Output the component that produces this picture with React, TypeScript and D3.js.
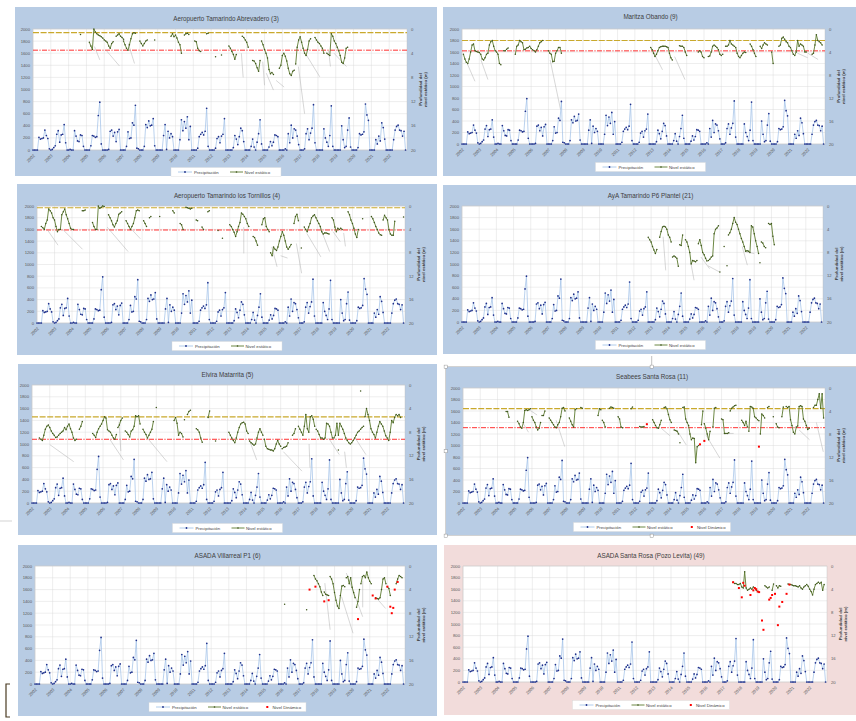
import * as d3 from "d3";

type Seg = [string, number[]];
type Dot = [string, number];

const YEAR_TICKS = d3.range(2002, 2023);
const LEFT_TICKS = d3.range(0, 2001, 200);
const RIGHT_TICKS = [0, 4, 8, 12, 16, 20];

// precipitación mensual (mm), una fila por año 2002..2022
const PRECIP_MM: number[][] = [
  [0, 0, 0, 0, 210, 180, 190, 200, 330, 240, 190, 20],
  [0, 10, 40, 70, 260, 320, 130, 250, 260, 420, 120, 0],
  [0, 10, 0, 0, 320, 230, 150, 140, 250, 240, 60, 0],
  [0, 0, 0, 70, 240, 230, 210, 220, 570, 790, 100, 0],
  [0, 0, 0, 10, 310, 330, 230, 290, 140, 300, 340, 0],
  [0, 0, 0, 60, 300, 190, 200, 450, 410, 740, 30, 20],
  [0, 0, 0, 60, 420, 370, 480, 400, 410, 520, 70, 0],
  [0, 0, 0, 0, 240, 420, 10, 310, 200, 270, 220, 0],
  [0, 0, 0, 170, 500, 320, 470, 360, 550, 170, 390, 0],
  [0, 0, 0, 30, 220, 260, 290, 250, 310, 690, 60, 0],
  [0, 0, 0, 30, 190, 220, 120, 230, 260, 520, 0, 0],
  [0, 0, 0, 40, 240, 180, 90, 220, 360, 320, 140, 0],
  [0, 0, 0, 60, 180, 50, 0, 130, 270, 500, 100, 0],
  [0, 0, 0, 50, 140, 70, 130, 250, 240, 220, 0, 0],
  [0, 0, 20, 0, 270, 120, 410, 200, 350, 330, 230, 90],
  [0, 0, 0, 20, 270, 350, 170, 280, 360, 750, 120, 0],
  [0, 0, 0, 0, 350, 200, 130, 60, 240, 730, 60, 0],
  [0, 0, 0, 0, 400, 170, 40, 60, 330, 530, 50, 0],
  [0, 0, 0, 40, 270, 250, 260, 300, 760, 580, 490, 0],
  [0, 0, 0, 170, 100, 230, 150, 450, 370, 180, 0, 0],
  [0, 0, 0, 170, 330, 390, 410, 330, 320, 230, 310, 0],
];

const TITLES = [
  "Aeropuerto Tamarindo Abrevadero (3)",
  "Maritza Obando (9)",
  "Aeropuerto Tamarindo los Tornillos (4)",
  "AyA Tamarindo P6 Plantel (21)",
  "Elvira Matarrita (5)",
  "Seabees Santa Rosa (11)",
  "ASADA Villarreal P1  (6)",
  "ASADA Santa Rosa (Pozo Levita) (49)",
];

// nivel estático: profundidad (m), tramos mensuales [inicio, valores]
const LEVEL_P1: Seg[] = [
  ["2004-09", [0.9]],
  ["2005-03", [2.2, 2.8, 3.4, 0.0, 0.5, 0.8, 1.0, 1.1, 1.3, 1.5, 1.8, 2.0, 2.2, 2.8, 3.2, 2.4, 2.1]],
  ["2006-09", [1.2, 1.0, 0.8, 1.2, 1.4, 1.7]],
  ["2007-02", [2.0, 2.6, 3.2, 3.5, 2.6, 1.6, 0.8, 0.6, 0.7]],
  ["2008-01", [2.0, 2.4, 2.8, 2.4, 2.0, 1.8]],
  ["2008-11", [1.8]],
  ["2009-10", [1.2, 0.8, 1.3, 1.0, 1.5, 2.2, 2.6, 4.0]],
  ["2010-07", [1.0, 0.8, 0.7, 0.9]],
  ["2011-02", [2.0, 2.1, 3.2, 3.6, 3.7]],
  ["2011-10", [0.8, 0.7]],
  ["2012-04", [4.6]],
  ["2012-08", [4.3]],
  ["2013-01", [2.8, 3.2, 3.7, 4.2, 5.0, 4.2]],
  ["2013-10", [1.2, 1.4, 1.8, 2.2, 3.0]],
  ["2014-05", [5.2, 5.3, 5.7, 6.4, 7.0, 5.2]],
  ["2014-11", [2.0, 2.6, 3.4, 4.0, 4.8, 6.7, 7.4, 7.2, 7.5]],
  ["2015-11", [6.5, 6.0, 4.4, 4.0, 4.5, 5.3, 6.5, 7.4, 7.7, 7.0, 6.8]],
  ["2016-10", [5.8, 3.0, 1.8, 1.3, 2.2, 3.2, 4.0, 4.4, 3.4, 2.0, 1.6]],
  ["2017-11", [1.4, 1.8, 2.2, 2.4, 2.8, 3.2, 4.0]],
  ["2018-07", [4.0, 4.2, 4.4, 0.8, 1.2, 2.0, 2.4, 3.0, 3.6, 4.4, 5.5, 5.7, 4.8, 3.2, 3.0]],
];

const LEVEL_P2: Seg[] = [
  ["2002-02", [4.4, 5.2, 5.8, 6.0, 5.2, 4.0, 2.8, 2.6, 3.8, 3.9, 4.0, 4.1, 4.4, 5.2, 5.4, 5.0, 4.4, 4.2, 2.8, 2.2, 2.0, 3.0, 3.8, 4.0, 4.4, 6.0, 6.2]],
  ["2004-06", [3.8, 3.8, 3.5, 3.3]],
  ["2005-02", [4.4, 3.0, 2.8, 2.0, 2.2, 2.4, 3.6, 3.5, 3.3, 3.2, 3.0, 3.4, 3.6, 3.8, 4.0, 3.6, 3.0, 2.4, 2.2, 2.0]],
  ["2007-01", [3.8, 4.2, 4.4, 5.7, 5.6, 4.2, 3.8, 3.2, 3.2, 4.2]],
  ["2012-12", [3.2, 3.6, 4.2, 4.8, 4.4, 3.8, 3.2, 3.1, 3.0, 3.0, 3.0, 3.1, 3.2, 4.2, 5.0, 5.4]],
  ["2014-08", [2.9, 3.0, 3.0, 3.2, 4.0, 4.6]],
  ["2015-09", [4.0, 3.8, 4.0, 4.8, 5.0]],
  ["2016-04", [4.8, 4.7, 4.0, 3.0, 2.8, 3.0, 3.2, 3.6, 4.4, 4.6, 4.4]],
  ["2017-04", [3.0, 3.0, 2.8, 2.0, 2.6, 2.8, 3.0, 3.2, 4.2, 4.8, 5.0, 4.6, 4.2, 4.0, 4.1]],
  ["2018-09", [2.6, 3.0, 3.6, 4.2, 4.8]],
  ["2019-04", [3.0, 3.4, 2.8, 2.4, 2.6, 2.8]],
  ["2019-12", [4.0, 6.0]],
  ["2020-05", [3.0, 2.8, 1.6, 1.4, 1.8, 2.2, 2.4, 3.0, 3.2, 3.8, 4.4, 4.6, 4.0, 2.0, 3.0, 2.6, 2.8, 3.0, 4.0, 4.0]],
  ["2022-04", [4.4, 4.2, 2.8, 1.0, 2.0, 2.2, 2.4, 2.8]],
];

const LEVEL_P3: Seg[] = [
  ["2002-04", [3.5, 3.7, 4.0, 3.0, 2.4, 0.5, 0.8, 1.2, 2.0, 2.4, 3.5, 4.4, 4.0, 4.0, 1.5, 1.0, 0.5, 1.5, 2.2, 3.0, 3.8, 4.0, 4.0]],
  ["2004-08", [0.8, 0.8, 0.7]],
  ["2005-03", [2.8, 3.5, 4.0, 4.0, 0.0, 0.4, 0.2, 0.0, 0.1]],
  ["2006-02", [1.5, 2.0, 2.5, 3.2, 3.6, 3.0, 2.5, 1.4, 1.2, 1.0]],
  ["2007-02", [2.5, 3.0, 3.5, 4.0, 3.5, 3.0, 2.0, 0.8, 0.7, 0.8]],
  ["2008-02", [2.5, 3.0, 3.5]],
  ["2008-06", [2.0, 1.8]],
  ["2009-01", [1.8]],
  ["2009-10", [0.8, 1.2]],
  ["2010-03", [3.0, 3.2, 4.0]],
  ["2010-07", [0.2, 0.3, 0.4, 0.5, 0.4]],
  ["2011-02", [2.4, 2.5]],
  ["2011-06", [3.6, 4.0]],
  ["2011-10", [1.0, 0.8]],
  ["2012-05", [4.2]],
  ["2012-08", [5.5]],
  ["2013-01", [3.2, 3.5, 4.0, 4.5, 5.2, 4.4, 3.5, 2.8, 1.2, 1.4, 1.8, 2.2, 3.0, 3.5]],
  ["2014-05", [5.2, 5.4, 6.0, 6.7]],
  ["2014-11", [3.2, 2.2, 2.0, 3.5, 4.0, 4.4]],
  ["2015-05", [8.0, 8.5, 7.0, 7.4, 7.6, 7.0, 6.0, 5.2, 4.4, 5.0, 6.0, 7.0, 7.4, 7.0, 6.6]],
  ["2016-09", [3.0, 1.8, 1.4, 2.5]],
  ["2017-02", [7.2]],
  ["2017-04", [3.6, 4.0, 4.4, 3.6, 3.0, 2.0, 1.7, 1.5, 2.0, 2.5, 3.0, 3.5, 4.4, 4.8, 4.6, 4.6, 4.7, 4.8]],
  ["2018-11", [2.0, 2.4, 3.6, 4.4, 3.8, 4.0, 3.8, 4.0]],
  ["2019-10", [1.0, 1.5, 2.4, 3.0, 3.8, 4.8, 5.4, 4.0]],
  ["2020-08", [2.2]],
  ["2021-02", [1.8, 2.2, 2.8, 3.5, 4.0, 4.6, 4.9, 5.0]],
  ["2021-10", [2.4, 1.6, 2.0, 2.4, 4.0, 4.8, 5.0, 5.0, 2.6]],
  ["2022-12", [1.9]],
];

const LEVEL_P4: Seg[] = [
  ["2012-11", [5.4, 5.8, 6.2, 7.0, 7.6, 8.2, 7.5]],
  ["2013-07", [5.4, 4.4, 3.6, 3.5, 3.6, 4.0, 5.0, 5.4, 6.2]],
  ["2014-04", [8.8, 8.6, 8.8, 9.0, 10.4]],
  ["2014-09", [6.7, 6.8, 5.0]],
  ["2015-01", [5.8, 6.2, 7.0, 8.0, 10.0, 9.4, 9.5, 9.6, 9.4]],
  ["2015-10", [6.5, 5.8, 6.8, 8.0, 8.4, 9.0, 9.5]],
  ["2016-05", [9.4, 9.2, 8.8, 8.6, 4.8, 4.0, 3.8, 3.4]],
  ["2017-01", [11.4]],
  ["2017-04", [7.0]],
  ["2017-06", [10.3]],
  ["2017-07", [5.0, 4.6, 4.0, 3.0, 2.0, 2.8, 3.2, 4.0, 4.8, 5.6, 6.2, 7.0, 7.8, 7.7, 7.8, 8.0, 3.4, 3.6, 4.8, 6.0, 7.0, 8.2]],
  ["2019-05", [9.8]],
  ["2019-06", [6.2, 6.4, 7.0, 7.2]],
  ["2019-11", [3.0, 3.2, 3.0, 5.2, 6.7]],
];

const LEVEL_P5: Seg[] = [
  ["2002-06", [9.0, 9.2, 9.4, 8.5, 7.5, 7.0, 6.8, 7.2, 7.8, 8.2, 8.5, 8.9, 8.8, 8.5, 8.2, 8.0, 7.8, 7.2, 7.6, 7.0, 6.6, 7.4, 8.0, 9.0, 9.4, 9.2]],
  ["2004-09", [7.5, 7.0, 6.2]],
  ["2005-06", [8.2, 8.5, 8.9, 8.0, 7.4, 7.0, 6.6, 6.0, 5.4, 5.6, 7.6, 7.8, 8.0, 8.5, 9.0, 9.2, 8.4]],
  ["2006-11", [7.2, 6.8, 6.0, 5.6]],
  ["2007-04", [7.8, 8.0, 8.4, 8.8, 7.8, 7.6, 7.0, 5.2, 5.4, 5.2, 6.6]],
  ["2008-04", [7.5, 8.0, 8.4, 9.0, 8.5, 8.0, 7.5, 6.2]],
  ["2009-01", [3.8]],
  ["2010-01", [6.0, 5.5, 6.5, 8.5, 8.0, 8.2, 8.8]],
  ["2010-08", [5.9]],
  ["2010-10", [5.0, 4.5, 4.3]],
  ["2011-04", [7.4, 7.6, 8.0, 9.0, 9.7]],
  ["2011-12", [5.5, 4.4]],
  ["2012-05", [9.5]],
  ["2013-02", [8.0, 8.5, 9.0, 9.4, 9.8, 9.0, 8.0, 7.2, 6.6, 6.4, 6.3, 6.6, 7.8, 8.2]],
  ["2014-04", [9.5, 9.8, 10.0, 10.2, 10.0, 9.0, 8.0, 7.4, 8.0, 8.5]],
  ["2015-02", [9.2, 10.4, 10.8, 10.9, 11.0, 11.0, 11.2, 10.8, 10.0, 9.4, 10.0, 10.4]],
  ["2016-02", [10.8, 10.6, 10.5, 10.4, 9.8]],
  ["2016-09", [8.5, 8.2, 7.4]],
  ["2017-01", [7.0, 7.5, 8.0, 8.5, 7.0, 5.0, 7.4, 8.0, 5.4, 5.2, 5.8, 7.0]],
  ["2018-01", [7.5, 7.8, 8.4, 9.0, 9.0, 9.2, 9.0, 6.5, 6.6, 7.0, 8.0, 9.0]],
  ["2019-01", [9.0, 8.5, 6.5, 8.5, 6.5, 7.0, 7.5, 8.2, 9.0, 9.4, 9.8, 10.0, 9.8, 9.4, 9.0, 8.5, 8.0, 7.8, 7.5, 7.2, 7.0]],
  ["2019-04", [11.0]],
  ["2020-07", [1.0]],
  ["2020-10", [5.4, 4.0, 5.0, 6.0, 7.4, 8.0, 8.4, 9.0, 8.0, 7.0, 6.2, 6.6, 7.0, 7.8, 8.6, 9.0, 9.4, 8.0, 6.0, 6.4, 5.5, 5.0, 5.2, 5.0, 5.5]],
];

const LEVEL_P6: Seg[] = [
  ["2004-07", [4.1, 4.1, 5.1]],
  ["2005-03", [5.8, 6.2, 6.8, 7.0, 6.0, 3.9, 3.8, 3.9, 3.8, 3.6]],
  ["2006-01", [5.0, 5.6, 6.0, 6.8, 7.3, 7.0, 6.0]],
  ["2006-08", [4.8, 4.8, 4.0]],
  ["2007-01", [5.2, 5.6, 6.0, 6.4, 6.8, 6.9, 6.4, 6.0, 5.0, 3.5, 3.4, 4.0]],
  ["2008-03", [5.2, 5.8, 6.4, 6.8, 3.8, 3.6]],
  ["2008-11", [3.4, 3.5]],
  ["2009-11", [4.8, 3.6, 3.8]],
  ["2010-02", [5.6, 6.0, 6.8]],
  ["2010-07", [3.5, 3.3, 3.4, 3.5]],
  ["2011-01", [5.0, 5.4, 6.8, 6.9]],
  ["2011-10", [3.6, 3.3]],
  ["2012-04", [6.7, 6.8, 6.8, 6.7]],
  ["2013-01", [5.5, 6.0, 6.5, 6.9, 7.0, 6.4, 5.6]],
  ["2013-09", [3.4, 3.3, 3.6, 4.6, 5.5, 6.0]],
  ["2014-04", [7.3, 7.4, 7.5, 8.0]],
  ["2014-08", [9.5]],
  ["2014-10", [3.4, 3.3, 5.4, 6.0, 6.5, 8.0, 9.0, 8.7, 8.8, 13.0, 10.2, 10.0]],
  ["2015-11", [6.4, 4.0]],
  ["2016-01", [6.2, 7.0, 8.0, 9.0, 7.5]],
  ["2016-07", [6.8, 3.5, 3.4]],
  ["2017-01", [5.4, 5.5, 7.9, 7.9, 7.9, 7.8]],
  ["2017-07", [4.0, 3.5, 3.3, 3.1, 3.0]],
  ["2018-03", [5.6, 6.0, 6.5, 5.8, 6.8]],
  ["2018-08", [7.5, 3.2, 3.3, 3.5, 5.0, 5.2, 5.5, 5.7]],
  ["2019-04", [8.0, 4.5, 4.8, 5.2]],
  ["2019-09", [3.4, 3.2]],
  ["2020-01", [5.0]],
  ["2020-03", [6.2, 6.8, 6.9]],
  ["2020-07", [5.0, 3.3]],
  ["2020-10", [3.2, 3.4, 3.2, 5.5, 6.5, 7.7, 8.0, 6.8, 6.6, 3.2, 3.1, 3.2, 5.4, 5.8, 6.5, 7.2, 7.0]],
  ["2022-05", [3.4, 3.0, 3.0, 2.0, 1.0, 3.5, 1.0, 5.2]],
];

const LEVEL_P7: Seg[] = [
  ["2016-03", [6.5]],
  ["2017-06", [7.4]],
  ["2017-11", [1.6, 2.2, 2.5, 3.0, 3.5, 4.4, 5.0]],
  ["2018-06", [4.4, 4.8, 4.9, 5.0]],
  ["2018-10", [1.8, 2.2, 3.0, 4.5, 5.8, 6.8, 7.2, 5.0, 3.4, 3.3, 3.5]],
  ["2019-09", [2.0, 1.8, 3.0, 2.0, 3.6, 4.5, 5.4]],
  ["2020-04", [7.0, 6.0, 4.0]],
  ["2020-07", [3.0, 1.8, 1.6, 2.0, 1.0, 2.0, 2.6, 3.0]],
  ["2021-05", [5.4, 5.5, 5.6, 5.4, 4.0, 2.2, 2.0, 3.0]],
  ["2022-01", [3.5, 3.8, 5.0]],
  ["2022-07", [3.0, 2.2, 1.6, 1.8, 2.0]],
];

const LEVEL_P8: Seg[] = [
  ["2017-08", [2.8, 3.0, 3.0, 3.2, 3.2, 3.0, 3.6, 3.8, 1.0, 3.8, 4.2, 4.0, 3.8, 4.0, 3.6, 3.8, 4.2, 4.4]],
  ["2019-06", [3.4, 3.6, 3.8, 3.6]],
  ["2019-11", [4.2, 3.1]],
  ["2020-02", [3.4, 3.8, 3.4, 3.5]],
  ["2020-10", [3.1, 3.2, 3.2, 3.3, 3.4, 3.4, 3.5, 3.6, 3.4, 3.8, 4.0, 3.6, 3.4, 3.2, 3.5, 4.0, 4.4, 5.0, 4.0, 3.2, 3.0, 2.8, 3.0, 2.8, 4.2, 3.2]],
];

// nivel dinámico: profundidad (m)
const DYN_P6: Dot[] = [["2012-09", 6.3], ["2015-10", 9.8], ["2016-01", 9.2], ["2019-03", 10.2]];
const DYN_P7: Dot[] = [
  ["2017-08", 4.0], ["2017-12", 3.5], ["2018-06", 6.0], ["2018-09", 5.8], ["2020-05", 9.0],
  ["2021-03", 5.0], ["2021-05", 5.5], ["2022-01", 3.5], ["2022-03", 6.9], ["2022-04", 8.0],
  ["2022-05", 7.1], ["2022-06", 4.0], ["2022-08", 2.7],
];
const DYN_P8: Dot[] = [
  ["2017-08", 2.8], ["2017-12", 3.8], ["2018-02", 5.4], ["2018-03", 2.9], ["2018-04", 3.4],
  ["2018-08", 5.0], ["2018-10", 4.2], ["2018-11", 3.8], ["2018-12", 4.0], ["2019-01", 4.4],
  ["2019-02", 4.5], ["2019-04", 9.4], ["2019-05", 11.0], ["2019-09", 5.8], ["2019-10", 5.5],
  ["2019-11", 5.0], ["2020-01", 4.8], ["2020-03", 10.2], ["2020-04", 7.0], ["2020-06", 6.2],
  ["2020-09", 4.8], ["2020-11", 3.2],
];

// líneas grises finas: [año, prof, año, prof]
const TRACE_P1 = [
  [2005.45, 2.9, 2005.75, 5.1], [2006.1, 3.5, 2006.85, 6.1], [2007.35, 2.4, 2007.7, 5.7],
  [2013.7, 4.0, 2013.8, 8.0], [2014.9, 5.4, 2015.0, 9.3], [2015.1, 7.3, 2015.5, 10.1],
  [2015.65, 8.5, 2016.1, 9.6], [2016.9, 6.2, 2017.25, 14.0], [2017.35, 4.3, 2018.1, 7.9],
  [2018.6, 3.6, 2018.7, 6.2], [2018.9, 4.0, 2019.6, 6.2],
];
const TRACE_P2 = [
  [2002.3, 6.0, 2002.75, 9.1], [2003.1, 5.4, 2003.5, 8.8], [2007.1, 5.4, 2007.7, 14.0],
  [2013.0, 3.6, 2013.6, 7.1], [2014.3, 4.8, 2014.9, 8.8], [2021.4, 4.2, 2022.0, 5.0],
  [2022.0, 4.2, 2022.6, 5.3],
];
const TRACE_P3 = [
  [2002.6, 4.1, 2003.2, 6.7], [2003.5, 4.1, 2004.6, 7.4], [2006.0, 3.6, 2007.2, 7.8],
  [2007.4, 4.0, 2007.9, 5.6], [2013.8, 3.6, 2013.8, 8.1], [2015.4, 7.0, 2015.7, 10.4],
  [2015.9, 8.5, 2016.3, 8.9], [2016.8, 6.4, 2017.1, 11.5], [2017.4, 4.7, 2018.2, 8.7],
  [2018.15, 3.6, 2018.7, 7.8], [2018.9, 4.4, 2019.3, 6.1], [2019.5, 4.6, 2019.6, 6.9],
];
const TRACE_P4 = [
  [2013.7, 5.3, 2013.85, 11.1], [2015.3, 9.6, 2015.5, 12.8], [2015.9, 8.8, 2016.4, 10.8],
  [2016.3, 10.3, 2017.0, 11.4], [2018.3, 7.0, 2018.6, 10.2], [2018.5, 7.9, 2019.0, 8.2],
];
const TRACE_P5 = [
  [2003.0, 10.1, 2004.35, 13.0], [2006.4, 9.3, 2007.15, 12.7], [2006.9, 6.2, 2007.0, 11.2],
  [2008.5, 9.0, 2009.6, 13.0], [2014.2, 9.0, 2014.65, 12.7], [2016.15, 11.3, 2017.2, 14.6],
  [2017.6, 10.0, 2017.65, 14.0], [2018.7, 9.0, 2019.3, 11.8], [2019.6, 11.3, 2019.7, 14.0],
  [2020.2, 9.0, 2020.8, 11.8],
];
const TRACE_P6 = [
  [2005.5, 6.2, 2005.8, 7.7], [2005.9, 3.9, 2006.3, 4.7], [2007.4, 5.6, 2007.9, 10.2],
  [2013.5, 7.0, 2014.0, 8.3], [2014.4, 7.3, 2014.95, 9.9], [2016.1, 8.2, 2016.9, 12.2],
  [2017.4, 7.9, 2017.7, 7.9], [2021.5, 7.3, 2022.1, 9.0], [2022.5, 6.0, 2022.9, 11.1],
];
const TRACE_P7 = [
  [2018.45, 2.9, 2018.75, 10.8], [2019.4, 5.2, 2020.05, 11.4], [2019.67, 1.2, 2020.6, 8.6],
  [2020.6, 2.5, 2020.6, 7.0], [2021.4, 5.5, 2021.9, 7.2],
];

// líneas de referencia (prof, m)
const REF_GOLD = [0.6, 2.0, 0.3, null, 5.4, 3.6, null, null];
const REF_RED = [3.5, 3.8, 4.1, null, 9.2, 6.9, null, null];

const LEVELS = [LEVEL_P1, LEVEL_P2, LEVEL_P3, LEVEL_P4, LEVEL_P5, LEVEL_P6, LEVEL_P7, LEVEL_P8];
const DYNAMIC: (Dot[] | null)[] = [null, null, null, null, null, DYN_P6, DYN_P7, DYN_P8];
const TRACES = [TRACE_P1, TRACE_P2, TRACE_P3, TRACE_P4, TRACE_P5, TRACE_P6, TRACE_P7, []];

const LAYOUT = [
  { bx: 15, by: 7, bw: 422, bh: 169, l: 33, r: 407, t: 29, b: 150, ty: 18, ly: 172, bg: "#b8cce4" },
  { bx: 443, by: 7, bw: 415, bh: 169, l: 462, r: 825, t: 29, b: 144, ty: 16, ly: 167, bg: "#b8cce4" },
  { bx: 17, by: 184, bw: 420, bh: 171, l: 37, r: 405, t: 206, b: 323, ty: 195, ly: 346, bg: "#b8cce4" },
  { bx: 443, by: 185, bw: 415, bh: 169, l: 462, r: 823, t: 206, b: 322, ty: 195, ly: 345, bg: "#b8cce4" },
  { bx: 18, by: 364, bw: 419, bh: 171, l: 32, r: 405, t: 385, b: 503, ty: 374, ly: 528, bg: "#b8cce4" },
  { bx: 446, by: 367, bw: 412, bh: 168, l: 463, r: 825, t: 388, b: 503, ty: 376, ly: 527, bg: "#b8cce4" },
  { bx: 18, by: 545, bw: 419, bh: 171, l: 35, r: 405, t: 566, b: 684, ty: 555, ly: 707, bg: "#b8cce4" },
  { bx: 444, by: 545, bw: 414, bh: 170, l: 463, r: 827, t: 566, b: 682, ty: 555, ly: 705, bg: "#f2dcdb" },
];

const FONT = "'Liberation Sans', Arial, sans-serif";
const RAIN_LINE = "#9dbfe6";
const RAIN_MARK = "#1f2f8a";
const LEVEL_LINE = "#5c7a30";
const LEVEL_MARK = "#3e561c";

const toYear = (s: string) => +s.slice(0, 4) + (+s.slice(5, 7) - 1) / 12;

function Legend({ cx, cy, dyn }: { cx: number; cy: number; dyn: boolean }) {
  const w = dyn ? 157 : 110;
  const x0 = cx - w / 2;
  return (
    <g fontSize={4.3} fill="#404040">
      <rect x={x0} y={cy - 4.5} width={w} height={9} fill="#fff" stroke="#d9d9d9" strokeWidth={0.4} />
      <line x1={x0 + 7} x2={x0 + 21} y1={cy} y2={cy} stroke={RAIN_LINE} strokeWidth={0.8} />
      <circle cx={x0 + 14} cy={cy} r={0.9} fill={RAIN_MARK} />
      <text x={x0 + 23} y={cy} dominantBaseline="central">Precipitación</text>
      <line x1={x0 + 59} x2={x0 + 72} y1={cy} y2={cy} stroke={LEVEL_LINE} strokeWidth={0.9} />
      <circle cx={x0 + 65.5} cy={cy} r={0.8} fill={LEVEL_MARK} />
      <text x={x0 + 73.5} y={cy} dominantBaseline="central">Nivel estático</text>
      {dyn && (
        <>
          <rect x={x0 + 117.3} y={cy - 1} width={2} height={2} fill="#ff0000" />
          <text x={x0 + 123.5} y={cy} dominantBaseline="central">Nivel Dinámico</text>
        </>
      )}
    </g>
  );
}

function Panel({ k }: { k: number }) {
  const L = LAYOUT[k];
  const x = d3.scaleLinear().domain([2002, 2023]).range([L.l, L.r]);
  const yL = d3.scaleLinear().domain([0, 2000]).range([L.b, L.t]);
  const yR = d3.scaleLinear().domain([0, 20]).range([L.t, L.b]);

  const rain: [number, number][] = PRECIP_MM.flatMap((row, i) =>
    row.map((v, m) => [2002 + i + m / 12, v] as [number, number])
  );
  const rainPath = d3.line<[number, number]>().x((d) => x(d[0])).y((d) => yL(d[1]));
  const levelPath = d3.line<[number, number]>().x((d) => x(d[0])).y((d) => yR(d[1]));
  const segs = LEVELS[k].map(([s, vals]) =>
    vals.map((v, j) => [toYear(s) + j / 12, v] as [number, number])
  );
  const dyn = DYNAMIC[k];
  const gold = REF_GOLD[k];
  const red = REF_RED[k];
  const mid = (L.t + L.b) / 2;

  return (
    <g>
      <rect x={L.bx} y={L.by} width={L.bw} height={L.bh} fill={L.bg} />
      <text x={L.bx + L.bw / 2} y={L.ty} textAnchor="middle" dominantBaseline="central" fontSize={6.3} fill="#404040">
        {TITLES[k]}
      </text>
      <rect x={L.l} y={L.t} width={L.r - L.l} height={L.b - L.t} fill="#fff" />
      {LEFT_TICKS.map((v) => (
        <line key={"h" + v} x1={L.l} x2={L.r} y1={yL(v)} y2={yL(v)} stroke="#d9d9d9" strokeWidth={0.45} />
      ))}
      {YEAR_TICKS.map((yr) => (
        <line key={"v" + yr} x1={x(yr)} x2={x(yr)} y1={L.t} y2={L.b} stroke="#d9d9d9" strokeWidth={0.45} />
      ))}
      <rect x={L.l} y={L.t} width={L.r - L.l} height={L.b - L.t} fill="none" stroke="#bfbfbf" strokeWidth={0.4} />

      {LEFT_TICKS.map((v) => (
        <text key={"lt" + v} x={L.l - 3} y={yL(v)} textAnchor="end" dominantBaseline="central" fontSize={4.2} fill="#595959">
          {v}
        </text>
      ))}
      {RIGHT_TICKS.map((v) => (
        <text key={"rt" + v} x={L.r + 4} y={yR(v)} dominantBaseline="central" fontSize={4.2} fill="#595959">
          {v}
        </text>
      ))}
      {YEAR_TICKS.map((yr) => (
        <text
          key={"xt" + yr}
          transform={`translate(${x(yr) + 1},${L.b + 5}) rotate(-45)`}
          textAnchor="end"
          dominantBaseline="central"
          fontSize={4.2}
          fill="#595959"
        >
          {yr}
        </text>
      ))}
      <text
        transform={`translate(${L.r + 14.5},${mid}) rotate(-90)`}
        textAnchor="middle"
        fontSize={4.3}
        fontWeight="bold"
        fill="#404040"
      >
        <tspan x={0} dy={0}>Profundidad del</tspan>
        <tspan x={0} dy={5}>nivel estático (m)</tspan>
      </text>

      {gold !== null && (
        <line x1={L.l} x2={L.r} y1={yR(gold)} y2={yR(gold)} stroke="#c9a92c" strokeWidth={1.2} strokeDasharray="6,1.6" />
      )}
      {red !== null && (
        <line x1={L.l} x2={L.r} y1={yR(red)} y2={yR(red)} stroke="#ff1a1a" strokeWidth={0.9} strokeDasharray="5,1.4,1.2,1.4" />
      )}

      {TRACES[k].map((t, i) => (
        <line key={"tr" + i} x1={x(t[0])} y1={yR(t[1])} x2={x(t[2])} y2={yR(t[3])} stroke="#a6a6a6" strokeWidth={0.45} />
      ))}

      <path d={rainPath(rain) ?? ""} fill="none" stroke={RAIN_LINE} strokeWidth={0.7} />
      {rain.map((d, i) => (
        <circle key={"r" + i} cx={x(d[0])} cy={yL(d[1])} r={0.85} fill={RAIN_MARK} />
      ))}

      {segs.map((s, i) => (
        <g key={"s" + i}>
          <path d={levelPath(s) ?? ""} fill="none" stroke={LEVEL_LINE} strokeWidth={0.9} />
          {s.map((d, j) => (
            <circle key={j} cx={x(d[0])} cy={yR(d[1])} r={0.75} fill={LEVEL_MARK} />
          ))}
        </g>
      ))}

      {dyn &&
        dyn.map(([s, v], i) => (
          <rect key={"d" + i} x={x(toYear(s)) - 1} y={yR(v) - 1} width={2} height={2} fill="#ff0000" />
        ))}

      <Legend cx={L.bx + L.bw / 2} cy={L.ly} dyn={!!dyn} />
    </g>
  );
}

export default function App() {
  const handles = [
    [445.7, 366.7], [651.7, 366.7], [445.7, 451.2], [445.7, 535.7], [651.7, 535.7],
  ];
  return (
    <>
      <style>{`body{margin:0;background:#fff}`}</style>
      <svg width={856} height={721} style={{ display: "block", fontFamily: FONT }}>
        <rect width={856} height={721} fill="#fff" />
        {LAYOUT.map((_, k) => (
          <Panel key={k} k={k} />
        ))}
        {/* marco de selección del gráfico Seabees */}
        <rect x={445.7} y={366.7} width={420} height={169} fill="none" stroke="#a6a6a6" strokeWidth={0.5} />
        <line x1={651.7} x2={651.7} y1={356} y2={365} stroke="#808080" strokeWidth={0.5} />
        {handles.map(([hx, hy], i) => (
          <rect key={i} x={hx - 1.6} y={hy - 1.6} width={3.2} height={3.2} fill="#fff" stroke="#808080" strokeWidth={0.4} />
        ))}
        <line x1={0} x2={12} y1={521} y2={521} stroke="#c8c8c8" strokeWidth={0.8} />
        <path d="M10,684 L6,684 L6,717 L10,717" fill="none" stroke="#4a3b22" strokeWidth={1.2} />
      </svg>
    </>
  );
}
